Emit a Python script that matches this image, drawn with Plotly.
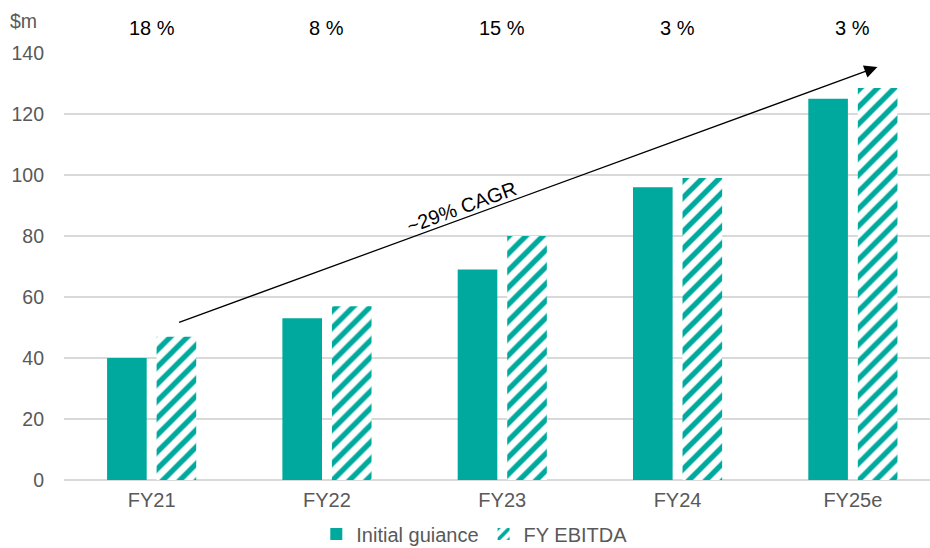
import plotly.graph_objects as go

categories = ["FY21", "FY22", "FY23", "FY24", "FY25e"]
initial_guidance = [40, 53, 69, 96, 125]
fy_ebitda = [47, 57, 80, 99, 128.5]
pct_labels = ["18 %", "8 %", "15 %", "3 %", "3 %"]
cagr_label = "~29% CAGR"

teal = "#00A99D"
gray = "#595959"
font = "Liberation Sans, Arial, sans-serif"

fig = go.Figure()
fig.add_trace(go.Bar(x=categories, y=initial_guidance, name="Initial guiance",
                     marker=dict(color=teal, line=dict(width=0))))
fig.add_trace(go.Bar(x=categories, y=fy_ebitda, name="FY EBITDA",
                     marker=dict(color="white", line=dict(width=0),
                                 pattern=dict(shape="/", fgcolor=teal, bgcolor="white",
                                              size=12, solidity=0.45, fillmode="replace"))))

for i, lab in enumerate(pct_labels):
    fig.add_annotation(x=i, y=1, yref="paper", yanchor="bottom", yshift=12,
                       text=lab, showarrow=False, font=dict(size=20, color="black", family=font))

fig.add_annotation(xref="paper", yref="paper", x=-0.062, y=1, yanchor="bottom", xanchor="left",
                   xshift=-2, yshift=19, text="$m", showarrow=False,
                   font=dict(size=19.5, color=gray, family=font))

# arrow
fig.add_annotation(x=4.14, y=135.4, ax=0.148, ay=51.5, axref="x", ayref="y", xref="x", yref="y",
                   text="", showarrow=True, arrowhead=2, arrowsize=2.0, arrowwidth=1.3,
                   arrowcolor="black")
fig.add_annotation(x=1.77, y=89.5, text=cagr_label, showarrow=False, textangle=-20,
                   font=dict(size=20, color="black", family=font))

fig.update_layout(
    width=930, height=548,
    margin=dict(l=64, r=0, t=53, b=68, autoexpand=False),
    plot_bgcolor="white", paper_bgcolor="white",
    barmode="group", bargap=0.435, bargroupgap=0.2,
    font=dict(family=font, size=20, color=gray),
    showlegend=True,
    legend=dict(orientation="h", x=0.51, xanchor="center", xref="container",
                y=14 / 548, yanchor="middle", yref="container",
                font=dict(size=20, color=gray), itemwidth=30, tracegroupgap=0),
    xaxis=dict(range=[-0.5, 4.44], showgrid=False, showline=False, ticks="",
               tickfont=dict(size=20, color=gray), ticklabelstandoff=6),
    yaxis=dict(range=[0, 140], dtick=20, showgrid=True, gridcolor="#D9D9D9", gridwidth=1.5,
               zeroline=True, zerolinecolor="#D9D9D9", zerolinewidth=1.5,
               tickfont=dict(size=19.5, color=gray), ticks="", ticklabelstandoff=19),
)

fig.write_html("out.html")
